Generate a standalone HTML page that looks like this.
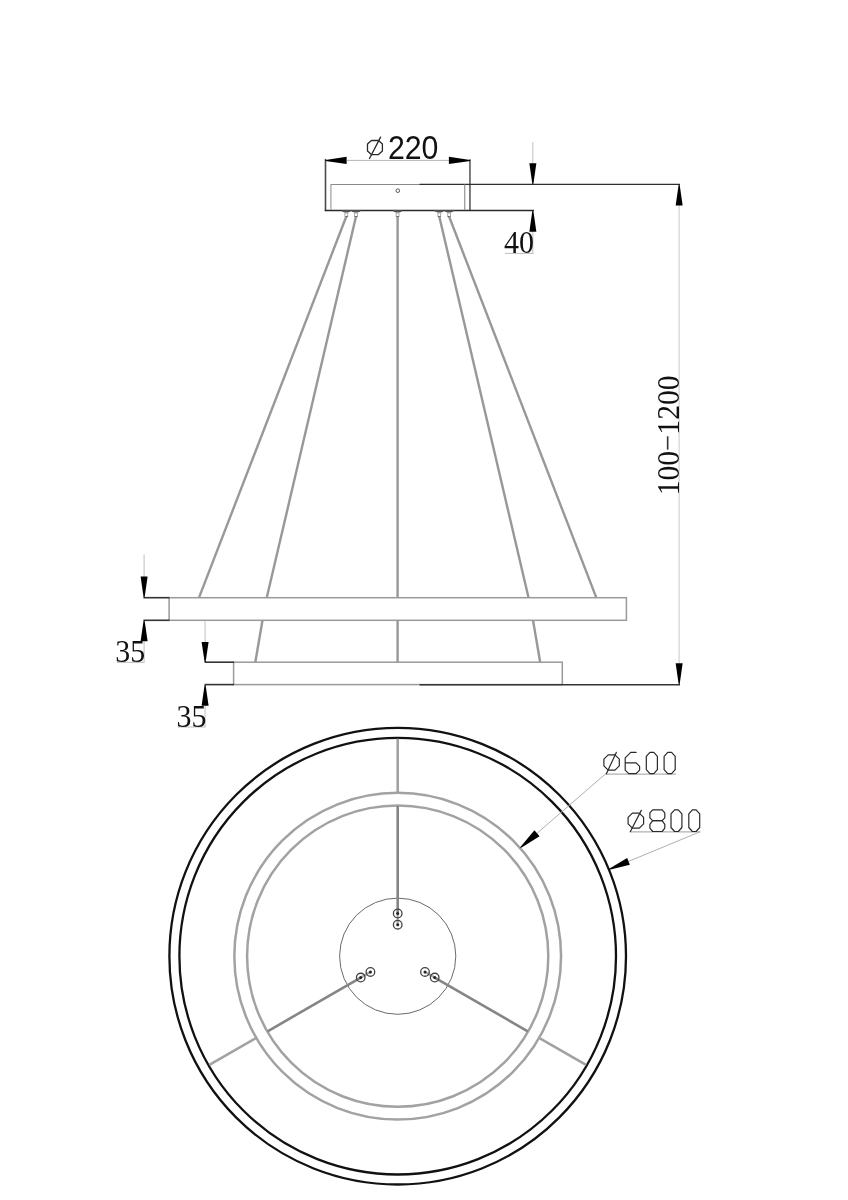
<!DOCTYPE html>
<html><head><meta charset="utf-8"><style>
html,body{margin:0;padding:0;background:#fff;width:848px;height:1200px;overflow:hidden;}
svg{display:block;will-change:transform;}
</style></head><body>
<svg width="848" height="1200" viewBox="0 0 848 1200">
<rect width="848" height="1200" fill="#fff"/>
<line x1="346.50" y1="160.40" x2="449.00" y2="160.40" stroke="#b5b5b5" stroke-width="1"/>
<line x1="325.50" y1="158.90" x2="325.50" y2="211.10" stroke="#4a4a4a" stroke-width="1.6"/>
<line x1="469.95" y1="159.20" x2="469.95" y2="211.10" stroke="#6e6e6e" stroke-width="1.8"/>
<line x1="324.80" y1="210.45" x2="534.00" y2="210.45" stroke="#2a2a2a" stroke-width="1.4"/>
<line x1="330.60" y1="184.50" x2="421.00" y2="184.50" stroke="#8a8a8a" stroke-width="1"/>
<line x1="419.50" y1="184.40" x2="680.00" y2="184.40" stroke="#2e2e2e" stroke-width="1.4"/>
<line x1="330.90" y1="184.50" x2="330.90" y2="210.00" stroke="#a5a5a5" stroke-width="1.3"/>
<line x1="464.70" y1="184.50" x2="464.70" y2="210.00" stroke="#9c9c9c" stroke-width="1.3"/>
<circle cx="397.8" cy="190.7" r="1.8" fill="none" stroke="#555" stroke-width="1.0"/>
<polygon points="341.50,210.60 351.10,210.60 348.00,213.00 344.60,213.00" fill="#a0a0a0"/>
<polygon points="341.40,210.50 351.20,210.50 349.90,211.70 342.70,211.70" fill="#3a3a3a"/>
<rect x="344.90" y="213.0" width="2.8" height="3.4" fill="none" stroke="#a0a0a0" stroke-width="0.9"/>
<rect x="345.00" y="216.0" width="2.6" height="1.2" fill="#555"/>
<polygon points="351.20,210.60 360.80,210.60 357.70,213.00 354.30,213.00" fill="#a0a0a0"/>
<polygon points="351.10,210.50 360.90,210.50 359.60,211.70 352.40,211.70" fill="#3a3a3a"/>
<rect x="354.60" y="213.0" width="2.8" height="3.4" fill="none" stroke="#a0a0a0" stroke-width="0.9"/>
<rect x="354.70" y="216.0" width="2.6" height="1.2" fill="#555"/>
<polygon points="392.80,210.60 402.40,210.60 399.30,213.00 395.90,213.00" fill="#a0a0a0"/>
<polygon points="392.70,210.50 402.50,210.50 401.20,211.70 394.00,211.70" fill="#3a3a3a"/>
<rect x="396.20" y="213.0" width="2.8" height="3.4" fill="none" stroke="#a0a0a0" stroke-width="0.9"/>
<rect x="396.30" y="216.0" width="2.6" height="1.2" fill="#555"/>
<polygon points="434.50,210.60 444.10,210.60 441.00,213.00 437.60,213.00" fill="#a0a0a0"/>
<polygon points="434.40,210.50 444.20,210.50 442.90,211.70 435.70,211.70" fill="#3a3a3a"/>
<rect x="437.90" y="213.0" width="2.8" height="3.4" fill="none" stroke="#a0a0a0" stroke-width="0.9"/>
<rect x="438.00" y="216.0" width="2.6" height="1.2" fill="#555"/>
<polygon points="444.30,210.60 453.90,210.60 450.80,213.00 447.40,213.00" fill="#a0a0a0"/>
<polygon points="444.20,210.50 454.00,210.50 452.70,211.70 445.50,211.70" fill="#3a3a3a"/>
<rect x="447.70" y="213.0" width="2.8" height="3.4" fill="none" stroke="#a0a0a0" stroke-width="0.9"/>
<rect x="447.80" y="216.0" width="2.6" height="1.2" fill="#555"/>
<line x1="532.85" y1="142.00" x2="532.85" y2="164.00" stroke="#bfbfbf" stroke-width="1"/>
<line x1="532.85" y1="231.00" x2="532.85" y2="253.60" stroke="#bfbfbf" stroke-width="1"/>
<line x1="505.00" y1="253.40" x2="533.60" y2="253.40" stroke="#bfbfbf" stroke-width="1"/>
<line x1="679.15" y1="205.00" x2="679.15" y2="664.00" stroke="#d6d6d6" stroke-width="1.3"/>
<rect x="169.1" y="597.7" width="457.3" height="22.6" fill="none" stroke="#9a9a9a" stroke-width="1.5"/>
<rect x="233.6" y="662.2" width="328.7" height="22.4" fill="none" stroke="#9a9a9a" stroke-width="1.5"/>
<line x1="143.50" y1="597.70" x2="169.50" y2="597.70" stroke="#333" stroke-width="1.6"/>
<line x1="143.50" y1="620.30" x2="169.50" y2="620.30" stroke="#333" stroke-width="1.6"/>
<line x1="204.60" y1="662.20" x2="234.00" y2="662.20" stroke="#333" stroke-width="1.6"/>
<line x1="204.60" y1="684.60" x2="234.00" y2="684.60" stroke="#333" stroke-width="1.6"/>
<line x1="419.50" y1="684.65" x2="680.00" y2="684.65" stroke="#353535" stroke-width="1.5"/>
<line x1="144.10" y1="554.50" x2="144.10" y2="577.00" stroke="#bfbfbf" stroke-width="1"/>
<line x1="144.10" y1="641.00" x2="144.10" y2="662.60" stroke="#bfbfbf" stroke-width="1"/>
<line x1="117.00" y1="662.40" x2="144.40" y2="662.40" stroke="#bfbfbf" stroke-width="1"/>
<line x1="205.10" y1="620.60" x2="205.10" y2="642.00" stroke="#bfbfbf" stroke-width="1"/>
<line x1="205.10" y1="705.50" x2="205.10" y2="727.20" stroke="#bfbfbf" stroke-width="1"/>
<line x1="177.70" y1="727.00" x2="205.40" y2="727.00" stroke="#bfbfbf" stroke-width="1"/>
<line x1="346.30" y1="216.50" x2="199.00" y2="597.60" stroke="#989898" stroke-width="2.4"/>
<line x1="356.00" y1="216.50" x2="266.80" y2="597.60" stroke="#989898" stroke-width="2.4"/>
<line x1="262.50" y1="620.30" x2="255.30" y2="662.20" stroke="#989898" stroke-width="2.4"/>
<line x1="397.60" y1="216.50" x2="397.60" y2="597.60" stroke="#989898" stroke-width="2.4"/>
<line x1="397.60" y1="620.30" x2="397.60" y2="662.20" stroke="#989898" stroke-width="2.4"/>
<line x1="439.30" y1="216.50" x2="528.50" y2="597.60" stroke="#989898" stroke-width="2.4"/>
<line x1="533.00" y1="620.30" x2="540.20" y2="662.20" stroke="#989898" stroke-width="2.4"/>
<line x1="449.10" y1="216.50" x2="596.30" y2="597.60" stroke="#989898" stroke-width="2.4"/>
<circle cx="397.7" cy="956.2" r="228.3" fill="none" stroke="#111" stroke-width="2.3"/>
<circle cx="397.7" cy="956.2" r="218.3" fill="none" stroke="#111" stroke-width="2.3"/>
<circle cx="397.7" cy="956.2" r="163.35" fill="none" stroke="#a2a2a2" stroke-width="2.5"/>
<circle cx="397.7" cy="956.2" r="150.6" fill="none" stroke="#a2a2a2" stroke-width="2.5"/>
<circle cx="397.7" cy="956.2" r="58.1" fill="none" stroke="#6a6a6a" stroke-width="1"/>
<line x1="397.70" y1="792.00" x2="397.70" y2="738.70" stroke="#a2a2a2" stroke-width="2.6"/>
<line x1="397.70" y1="913.50" x2="397.70" y2="806.00" stroke="#858585" stroke-width="2.6"/>
<line x1="397.70" y1="924.70" x2="397.70" y2="913.50" stroke="#a8a8a8" stroke-width="2.2"/>
<circle cx="397.70" cy="924.70" r="4.3" fill="none" stroke="#444" stroke-width="1.3"/>
<circle cx="397.70" cy="924.70" r="1.5" fill="#222"/>
<circle cx="397.70" cy="913.50" r="4.3" fill="none" stroke="#444" stroke-width="1.3"/>
<circle cx="397.70" cy="913.50" r="1.5" fill="#222"/>
<line x1="539.90" y1="1038.30" x2="586.06" y2="1064.95" stroke="#a2a2a2" stroke-width="2.6"/>
<line x1="434.68" y1="977.55" x2="527.78" y2="1031.30" stroke="#858585" stroke-width="2.6"/>
<line x1="424.98" y1="971.95" x2="434.68" y2="977.55" stroke="#a8a8a8" stroke-width="2.2"/>
<circle cx="424.98" cy="971.95" r="4.3" fill="none" stroke="#444" stroke-width="1.3"/>
<circle cx="424.98" cy="971.95" r="1.5" fill="#222"/>
<circle cx="434.68" cy="977.55" r="4.3" fill="none" stroke="#444" stroke-width="1.3"/>
<circle cx="434.68" cy="977.55" r="1.5" fill="#222"/>
<line x1="255.50" y1="1038.30" x2="209.34" y2="1064.95" stroke="#a2a2a2" stroke-width="2.6"/>
<line x1="360.72" y1="977.55" x2="267.62" y2="1031.30" stroke="#858585" stroke-width="2.6"/>
<line x1="370.42" y1="971.95" x2="360.72" y2="977.55" stroke="#a8a8a8" stroke-width="2.2"/>
<circle cx="370.42" cy="971.95" r="4.3" fill="none" stroke="#444" stroke-width="1.3"/>
<circle cx="370.42" cy="971.95" r="1.5" fill="#222"/>
<circle cx="360.72" cy="977.55" r="4.3" fill="none" stroke="#444" stroke-width="1.3"/>
<circle cx="360.72" cy="977.55" r="1.5" fill="#222"/>
<line x1="605.40" y1="774.00" x2="537.00" y2="833.30" stroke="#b0b0b0" stroke-width="1"/>
<line x1="605.00" y1="774.20" x2="676.00" y2="774.20" stroke="#b0b0b0" stroke-width="1.2"/>
<line x1="700.00" y1="831.80" x2="628.50" y2="861.40" stroke="#b0b0b0" stroke-width="1"/>
<line x1="629.50" y1="831.90" x2="700.50" y2="831.90" stroke="#b0b0b0" stroke-width="1.2"/>
<polygon points="608.20,754.90 615.00,754.90 619.30,759.20 619.30,765.90 615.00,770.20 608.20,770.20 603.90,765.90 603.90,759.20" fill="none" stroke="#2a2a2a" stroke-width="1.2" stroke-linejoin="round" stroke-linecap="round"/>
<polyline points="606.40,773.70 616.30,752.40" fill="none" stroke="#2a2a2a" stroke-width="1.2" stroke-linejoin="round" stroke-linecap="round"/>
<polyline points="636.10,752.40 630.70,752.40 625.20,757.90 625.20,770.20 628.70,773.70 636.10,773.70 639.60,770.20 639.60,766.30 636.10,762.80 625.20,762.80" fill="none" stroke="#2a2a2a" stroke-width="1.2" stroke-linejoin="round" stroke-linecap="round"/>
<polygon points="649.90,752.40 653.80,752.40 657.40,756.40 657.40,769.70 653.80,773.70 649.90,773.70 646.30,769.70 646.30,756.40" fill="none" stroke="#2a2a2a" stroke-width="1.2" stroke-linejoin="round" stroke-linecap="round"/>
<polygon points="667.70,752.40 671.60,752.40 675.20,756.40 675.20,769.70 671.60,773.70 667.70,773.70 664.10,769.70 664.10,756.40" fill="none" stroke="#2a2a2a" stroke-width="1.2" stroke-linejoin="round" stroke-linecap="round"/>
<polygon points="632.40,813.10 639.30,813.10 643.60,817.40 643.60,823.90 639.30,828.20 632.40,828.20 628.10,823.90 628.10,817.40" fill="none" stroke="#2a2a2a" stroke-width="1.2" stroke-linejoin="round" stroke-linecap="round"/>
<polyline points="630.40,831.50 641.30,810.40" fill="none" stroke="#2a2a2a" stroke-width="1.2" stroke-linejoin="round" stroke-linecap="round"/>
<polygon points="652.70,809.90 662.10,809.90 664.80,812.90 664.80,817.80 662.10,820.60 652.70,820.60 649.90,817.80 649.90,812.90" fill="none" stroke="#2a2a2a" stroke-width="1.2" stroke-linejoin="round" stroke-linecap="round"/>
<polygon points="652.70,820.60 662.10,820.60 664.80,824.30 664.80,828.20 662.10,831.50 652.70,831.50 649.90,828.20 649.90,824.30" fill="none" stroke="#2a2a2a" stroke-width="1.2" stroke-linejoin="round" stroke-linecap="round"/>
<polygon points="674.60,809.90 678.30,809.90 681.90,813.90 681.90,827.50 678.30,831.50 674.60,831.50 671.00,827.50 671.00,813.90" fill="none" stroke="#2a2a2a" stroke-width="1.2" stroke-linejoin="round" stroke-linecap="round"/>
<polygon points="692.40,809.90 696.10,809.90 699.70,813.90 699.70,827.50 696.10,831.50 692.40,831.50 688.80,827.50 688.80,813.90" fill="none" stroke="#2a2a2a" stroke-width="1.2" stroke-linejoin="round" stroke-linecap="round"/>
<polygon points="371.40,140.50 378.50,140.50 382.40,144.00 382.40,151.10 378.50,154.60 371.40,154.60 367.50,151.10 367.50,144.00" fill="none" stroke="#2a2a2a" stroke-width="1.3" stroke-linejoin="round" stroke-linecap="round"/>
<polyline points="369.50,158.50 380.60,137.10" fill="none" stroke="#2a2a2a" stroke-width="1.3" stroke-linejoin="round" stroke-linecap="round"/>
<line x1="667.66" y1="436.30" x2="667.66" y2="449.60" stroke="#333" stroke-width="1.6"/>

<text transform="translate(387.9,159.0) scale(1.0,1.10)" style="font-family:'Liberation Sans',sans-serif;font-size:30.3px" fill="#111">220</text>
<text transform="translate(504.04,252.8) scale(0.97,1.0)" style="font-family:'Liberation Serif',serif;font-size:31px" fill="#111">40</text>
<text transform="translate(115.3,662.0) scale(0.987,1.045)" style="font-family:'Liberation Serif',serif;font-size:30.3px" fill="#111">35</text>
<text transform="translate(176.54,726.5) scale(0.987,1.045)" style="font-family:'Liberation Serif',serif;font-size:30.3px" fill="#111">35</text>
<text transform="translate(678.6,495.36) rotate(-90) scale(0.972,1.05)" style="font-family:'Liberation Serif',serif;font-size:30.5px" fill="#111">100</text>
<text transform="translate(678.6,434.66) rotate(-90) scale(0.972,1.05)" style="font-family:'Liberation Serif',serif;font-size:30.5px" fill="#111">1200</text>

<polygon points="325.50,160.90 346.60,164.00 346.60,156.80 325.50,159.90" fill="#000"/>
<polygon points="470.20,159.90 448.90,156.80 448.90,164.00 470.20,160.90" fill="#000"/>
<polygon points="533.35,184.20 536.35,163.30 529.35,163.30 532.35,184.20" fill="#000"/>
<polygon points="532.35,210.80 529.35,231.70 536.35,231.70 533.35,210.80" fill="#000"/>
<polygon points="678.65,184.80 675.65,205.50 682.65,205.50 679.65,184.80" fill="#000"/>
<polygon points="679.65,684.20 682.65,663.30 675.65,663.30 678.65,684.20" fill="#000"/>
<polygon points="144.60,597.40 147.60,576.50 140.60,576.50 143.60,597.40" fill="#000"/>
<polygon points="143.60,620.60 140.60,641.20 147.60,641.20 144.60,620.60" fill="#000"/>
<polygon points="205.60,662.00 208.60,641.90 201.60,641.90 204.60,662.00" fill="#000"/>
<polygon points="204.60,684.90 201.60,705.70 208.60,705.70 205.60,684.90" fill="#000"/>
<polygon points="520.83,848.08 539.56,836.24 534.44,830.36 520.17,847.32" fill="#000"/>
<polygon points="609.59,869.66 629.86,864.73 627.14,858.07 609.21,868.74" fill="#000"/>
</svg>
</body></html>
